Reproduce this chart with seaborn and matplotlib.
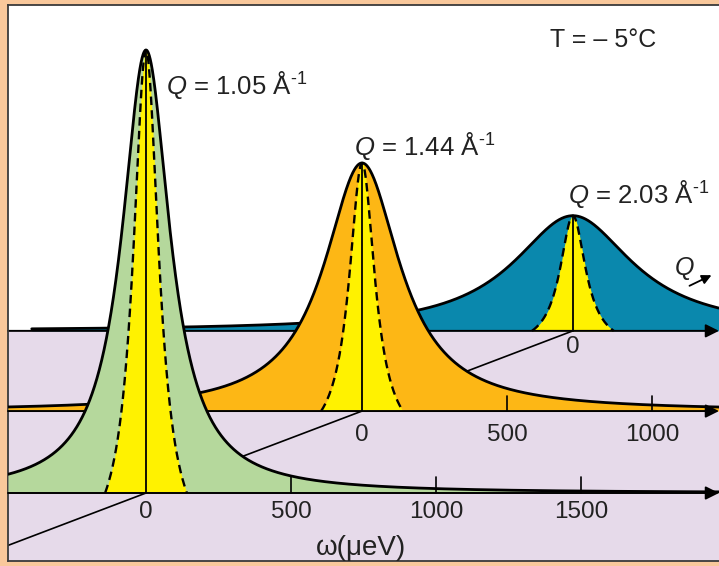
import numpy as np
import pandas as pd
import matplotlib
matplotlib.use("Agg")
import matplotlib.pyplot as plt
import seaborn as sns

# Quasielastic neutron spectra of supercooled water at three momentum transfers
q_values = ["1.05", "1.44", "2.03"]
peak_height = [1.00, 0.56, 0.26]          # peak intensity, relative to Q = 1.05
peak_hwhm = [100.0, 158.0, 250.0]         # Lorentzian half width at half maximum, µeV
resolution_hwhm = 54.0                    # instrument resolution half width, µeV
resolution_cut = 141.0                    # resolution window half range, µeV
tick_values = [[0, 500, 1000, 1500], [0, 500, 1000], [0]]
temperature_label = "T = – 5°C"
energy_label = "ω(μeV)"

fill_colors = ["#B5D89C", "#FDB715", "#0A88AD"]
resolution_color = "#FFF200"
floor_color = "#E6DAEA"
frame_color = "#F9C89B"

# Pseudo-3D layout: each spectrum sits on its own energy axis, stepped back along Q
layer_dw = [0.0, 745.0, 1472.0]                  # horizontal step, µeV
layer_dy = [0.0, 0.185, 0.366]                   # vertical step, intensity units
layer_span = [(-476, 1976), (-1221, 1231), (-1866, 503)]
tick_label_gap = [8, 13, 5]                      # pixels between axis and its labels

sns.set_theme(style="white")
plt.rcParams["font.family"] = ["Liberation Sans", "DejaVu Sans"]
plt.rcParams["mathtext.fontset"] = "custom"
plt.rcParams["mathtext.rm"] = "Liberation Sans"
plt.rcParams["mathtext.it"] = "Liberation Sans:italic"
plt.rcParams["mathtext.default"] = "rm"

W, H = 719, 566
fig = plt.figure(figsize=(W / 100, H / 100), dpi=100)
fig.patch.set_facecolor(frame_color)
ax = fig.add_axes([8 / W, 5 / H, 711 / W, 556 / H])
ax.set_facecolor("white")
x_min, x_max = -475.9, 1975.9
ax.set_xlim(x_min, x_max)
ax.set_ylim(-0.1535, 1.1016)
ax.set_xticks([])
ax.set_yticks([])
for side, sp in ax.spines.items():
    sp.set_color("#3a3a3a")
    sp.set_linewidth(1.3)
ax.spines["right"].set_visible(False)

# floor under the energy axes
ax.axhspan(-0.2, layer_dy[2], color=floor_color, lw=0, zorder=0.5)

# Q direction: line joining the elastic positions of the three spectra
cx = np.array(layer_dw)
cy = np.array(layer_dy)
slope = (cy[2] - cy[0]) / (cx[2] - cx[0])
line_x = np.concatenate([[x_min], cx])
line_y = np.concatenate([[cy[0] + slope * (x_min - cx[0])], cy])
ax.plot(line_x, line_y, color="black", lw=1.2, zorder=2)

for i in [2, 1, 0]:
    z = 1 + (2 - i) * 2
    dw, dy, h, g = layer_dw[i], layer_dy[i], peak_height[i], peak_hwhm[i]

    w = np.linspace(layer_span[i][0], layer_span[i][1], 3000)
    inten = h * g**2 / (w**2 + g**2)
    ax.fill_between(w + dw, dy, inten + dy, color=fill_colors[i], lw=0, zorder=z)

    # resolution function, drawn to the same peak height
    wr = np.linspace(-resolution_cut, resolution_cut, 800)
    lr = resolution_hwhm**2 / (wr**2 + resolution_hwhm**2)
    lc = resolution_hwhm**2 / (resolution_cut**2 + resolution_hwhm**2)
    res = h * (lr - lc) / (1 - lc)
    ax.fill_between(wr + dw, dy, res + dy, color=resolution_color, lw=0, zorder=z + 0.1)
    ax.plot(wr + dw, res + dy, color="black", lw=1.7, ls=(0, (3.6, 2.2)), zorder=z + 0.2)
    ax.plot([dw, dw], [dy, dy + h], color="black", lw=1.3, zorder=z + 0.3)

    sns.lineplot(x=w + dw, y=inten + dy, color="black", lw=2.0, sort=False,
                 estimator=None, ax=ax, zorder=z + 0.4)

    # energy axis with arrow
    ax.annotate("", xy=(x_max, dy), xytext=(x_min, dy),
                arrowprops=dict(arrowstyle="-|>", mutation_scale=20, lw=1.4,
                                color="black", shrinkA=0, shrinkB=0),
                zorder=z + 0.5, annotation_clip=False)
    for t in tick_values[i]:
        if t != 0:
            ax.plot([t + dw, t + dw], [dy, dy + 0.035], color="black", lw=1.2, zorder=z + 0.5)
        ax.annotate(str(t), xy=(t + dw, dy), xytext=(0, -tick_label_gap[i]),
                    textcoords="offset pixels", ha="center", va="top",
                    fontsize=17.5, color="#222222", zorder=z + 0.6)

# annotations
label_pos = [(166, 94), (354, 155), (568, 203)]
for q, (px, py) in zip(q_values, label_pos):
    fig.text(px / W, 1 - py / H, rf"$\mathit{{Q}}$ = {q} Å$^{{\text{{-}}1}}$",
             fontsize=18.5, ha="left", va="baseline", color="#222222", zorder=10)
fig.text(550 / W, 1 - 47 / H, temperature_label, fontsize=18, ha="left",
         va="baseline", color="#222222")
fig.text(361 / W, 1 - 555 / H, energy_label, fontsize=20, ha="center",
         va="baseline", color="#222222")
fig.text(685 / W, 1 - 268 / H, "Q", fontsize=18, style="italic", ha="center",
         va="center", color="#222222")
fig.add_artist(matplotlib.patches.FancyArrowPatch(
    (687 / W, 1 - 287 / H), (714 / W, 1 - 274 / H), transform=fig.transFigure,
    arrowstyle="-|>", mutation_scale=14, lw=1.3, color="black"))

fig.savefig("out.png", dpi=100, facecolor=fig.get_facecolor())
